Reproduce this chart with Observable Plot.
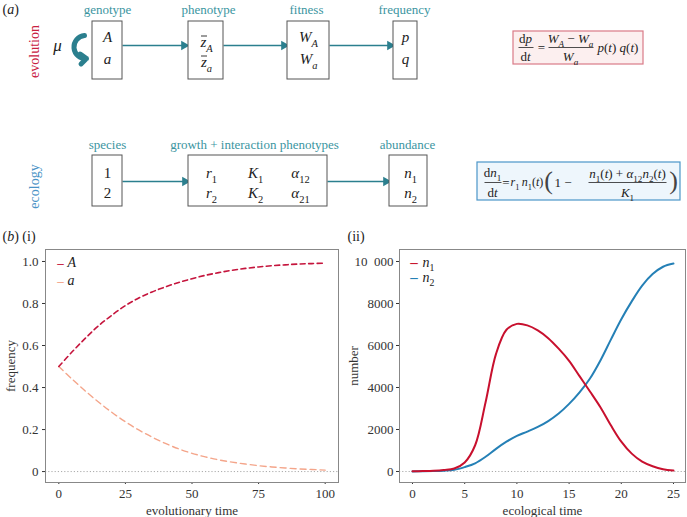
<!DOCTYPE html>
<html><head><meta charset="utf-8">
<script src="https://cdn.jsdelivr.net/npm/d3@7"></script>
<script src="https://cdn.jsdelivr.net/npm/@observablehq/plot@0.6"></script>
<style>
html,body{margin:0;padding:0;background:#fff;}
#root{position:relative;width:687px;height:517px;overflow:hidden;font-family:"Liberation Serif",serif;}
#root > svg{position:absolute;}
#root svg, #root svg text, #root svg g{font-family:"Liberation Serif", serif !important;}
</style></head><body><div id="root"></div>
<script>
// ---------------- data ----------------
const evoTime = [0,5,10,15,20,25,30,35,40,45,50,55,60,65,70,75,80,85,90,95,100];
const freqA = [0.5,0.57,0.635,0.695,0.745,0.79,0.826,0.855,0.879,0.9,0.918,0.934,0.947,0.958,0.967,0.974,0.98,0.984,0.988,0.99,0.992];
const freqa = [0.5,0.44,0.383,0.33,0.281,0.237,0.198,0.164,0.134,0.108,0.087,0.07,0.056,0.045,0.036,0.028,0.022,0.017,0.013,0.01,0.007];
const evoSeries = ["A","a"];
const evoXTicks = [0,25,50,75,100];
const evoYTicks = [0,0.2,0.4,0.6,0.8,1.0];

const ecoTime = [0,1,2,3,4,5,6,7,8,9,10,11,12,13,14,15,16,17,18,19,20,21,22,23,24,25];
const n1 = [10,20,35,70,140,430,1250,3300,5600,6750,7030,6960,6720,6350,5850,5270,4540,3810,3060,2200,1420,850,470,250,110,50];
const n2 = [5,10,20,40,80,210,390,700,1080,1420,1700,1900,2120,2400,2760,3220,3770,4430,5290,6280,7250,8100,8850,9400,9750,9900];
const ecoSeries = ["n1","n2"];
const ecoXTicks = [0,5,10,15,20,25];
const ecoYTicks = [0,2000,4000,6000,8000,10000];

// diagram content (text)
const evoHeaders = ["genotype","phenotype","fitness","frequency"];
const ecoHeaders = ["species","growth + interaction phenotypes","abundance"];

// ---------------- layout / style ----------------
const FONT = "Liberation Serif, serif";
const teal = "#3b959f", arrowTeal = "#2b7f8e";
const evoRed = "#c8203f", ecoBlue = "#4a93c6";
const colA = "#c5153d", cola = "#f4a58a", coln1 = "#c8102e", coln2 = "#2580b6";

const root = document.getElementById("root");

function richify(svg){
  const ns = "http://www.w3.org/2000/svg";
  svg.querySelectorAll("text").forEach(t => {
    if (t.querySelector("tspan")) return;
    const s = t.textContent;
    if (!/[*_]/.test(s)) return;
    const fs = parseFloat(getComputedStyle(t).fontSize) || 13;
    const segs = []; let it = false, sub = false, buf = "";
    const flush = () => { if (buf) segs.push({s: buf, it, sub}); buf = ""; };
    for (let i = 0; i < s.length; i++) {
      const c = s[i];
      if (c === "*") { flush(); it = !it; }
      else if (c === "_" && s[i+1] === "{") { flush(); sub = true; i++; }
      else if (c === "}" && sub) { flush(); sub = false; }
      else buf += c;
    }
    flush();
    t.textContent = "";
    let shift = 0;
    for (const g of segs) {
      const sp = document.createElementNS(ns, "tspan");
      sp.textContent = g.s;
      if (g.it) sp.setAttribute("font-style", "italic");
      const target = g.sub ? fs * 0.3 : 0;
      if (target !== shift) { sp.setAttribute("dy", (target - shift).toFixed(2)); shift = target; }
      if (g.sub) sp.setAttribute("font-size", (fs * 0.7).toFixed(2));
      t.appendChild(sp);
    }
  });
}

function place(svg, left, top){
  svg.style.left = left + "px"; svg.style.top = top + "px";
  root.appendChild(svg);
  richify(svg);
}

// ---------------- diagram (a) ----------------
const L = {
  headerPos: [[107,9],[208,9],[306,9],[404,9]],
  ecoHeaderPos: [[107,144],[254,144],[407,144]],
  evoBoxes: [{x1:92,x2:122,y1:21,y2:79},{x1:188,x2:223,y1:21,y2:79},{x1:287,x2:329,y1:21,y2:79},{x1:393,x2:417,y1:21,y2:79}],
  ecoBoxes: [{x1:92,x2:122,y1:155,y2:206},{x1:188,x2:327,y1:155,y2:206},{x1:389,x2:427,y1:155,y2:206}],
  arrows: [{x1:122,x2:187,y:45},{x1:223,x2:287,y:45},{x1:329,x2:393,y:45},{x1:122,x2:188,y:181},{x1:327,x2:389,y:181}],
  cells: [
    {t:"*A*",x:107,y:37},{t:"*a*",x:107,y:59},
    {t:"*z*_{*A*}",x:206,y:42},{t:"*z*_{*a*}",x:206,y:62},
    {t:"*W*_{*A*}",x:308,y:37},{t:"*W*_{*a*}",x:308,y:59},
    {t:"*p*",x:405,y:37},{t:"*q*",x:405,y:59},
    {t:"1",x:107,y:173},{t:"2",x:107,y:193},
    {t:"*r*_{1}",x:211,y:173},{t:"*r*_{2}",x:211,y:193},
    {t:"*K*_{1}",x:255,y:173},{t:"*K*_{2}",x:255,y:193},
    {t:"*\u03b1*_{12}",x:300,y:173},{t:"*\u03b1*_{21}",x:300,y:193},
    {t:"*n*_{1}",x:410,y:173},{t:"*n*_{2}",x:410,y:193}
  ],
  zBars: [{x1:200.5,x2:206.5,y:35.5},{x1:200.5,x2:206.5,y:55.5}],
  eqBox1: {x1:513,x2:643,y1:31,y2:64},
  eqBox2: {x1:477,x2:680,y1:162,y2:200},
  eq1Text: [
    {t:"d*p*",x:525,y:38,a:"middle"},{t:"d*t*",x:525,y:56,a:"middle"},
    {t:"=",x:541,y:47,a:"middle"},
    {t:"*W*_{*A*} \u2212 *W*_{*a*}",x:570,y:38,a:"middle"},{t:"*W*_{*a*}",x:570,y:56,a:"middle"},
    {t:"*p*(*t*) *q*(*t*)",x:597,y:47,a:"start"}
  ],
  eq1Lines: [{x1:518,x2:533,y:47},{x1:548,x2:593,y:47}],
  eq2Text: [
    {t:"d*n*_{1}",x:492,y:172,a:"middle"},{t:"d*t*",x:492,y:192,a:"middle"},
    {t:"=",x:505.5,y:182,a:"middle"},
    {t:"1 \u2212",x:554,y:182,a:"start"},
    {t:"*n*_{1}(*t*) + *\u03b1*_{12}*n*_{2}(*t*)",x:627,y:173,a:"middle"},
    {t:"*K*_{1}",x:627,y:192,a:"middle"}
  ],
  eq2Small: [{t:"*r*_{1}\u2009*n*_{1}(*t*)",x:510,y:182}],
  eq2Parens: [{t:"(",x:548,y:180},{t:")",x:673,y:180}],
  eq2Lines: [{x1:588,x2:666,y:182},{x1:484,x2:501,y:182}]
};

const headerData = evoHeaders.map((h,i)=>({t:h,x:L.headerPos[i][0],y:L.headerPos[i][1]}))
  .concat(ecoHeaders.map((h,i)=>({t:h,x:L.ecoHeaderPos[i][0],y:L.ecoHeaderPos[i][1]})));

const diagram = Plot.plot({
  width: 687, height: 245, margin: 0,
  style: {fontFamily: FONT, fontSize: "13px", background: "transparent", color: "#222"},
  x: {domain: [0,687], range: [0,687], axis: null},
  y: {domain: [0,245], range: [0,245], axis: null},
  marks: [
    Plot.text([{t:"(*a*)",x:2,y:9}], {x:"x",y:"y",text:"t",textAnchor:"start",fontSize:14,fill:"#222"}),
    Plot.text([{t:"(*b*) (i)",x:2,y:236},{t:"(ii)",x:347,y:236}], {x:"x",y:"y",text:"t",textAnchor:"start",fontSize:14,fill:"#222"}),
    Plot.text([{t:"evolution",x:34,y:51}], {x:"x",y:"y",text:"t",rotate:-90,fontSize:14,fill:evoRed}),
    Plot.text([{t:"ecology",x:34,y:186}], {x:"x",y:"y",text:"t",rotate:-90,fontSize:14,fill:ecoBlue}),
    Plot.text(headerData, {x:"x",y:"y",text:"t",fontSize:13,fill:teal}),
    Plot.link(L.arrows, {x1:"x1",x2:d=>d.x2-5,y1:"y",y2:"y",stroke:arrowTeal,strokeWidth:1.3}),
    Plot.dot(L.arrows, {x:d=>d.x2-3.5,y:"y",symbol:"triangle",rotate:90,r:3.6,fill:arrowTeal,stroke:null}),
    Plot.rect(L.evoBoxes.concat(L.ecoBoxes), {x1:"x1",x2:"x2",y1:"y1",y2:"y2",fill:"white",stroke:"#555",strokeWidth:1}),
    Plot.text(L.cells, {x:"x",y:"y",text:"t",fontSize:15,fill:"#222"}),
    Plot.link(L.zBars, {x1:"x1",x2:"x2",y1:"y",y2:"y",stroke:"#222",strokeWidth:0.9}),
    Plot.text([{t:"*\u03bc*",x:57,y:45}], {x:"x",y:"y",text:"t",fontSize:17,fill:"#222"}),
    Plot.arrow([{x1:84,y1:35,x2:86,y2:58}], {x1:"x1",y1:"y1",x2:"x2",y2:"y2",bend:-90,stroke:arrowTeal,strokeWidth:5,headLength:2.6,headAngle:80}),
    // equation boxes
    Plot.rect([L.eqBox1], {x1:"x1",x2:"x2",y1:"y1",y2:"y2",fill:"#fcefef",stroke:"#d97a87",strokeWidth:1.2}),
    Plot.rect([L.eqBox2], {x1:"x1",x2:"x2",y1:"y1",y2:"y2",fill:"#eef6fc",stroke:"#4b96c8",strokeWidth:1.2}),
    Plot.text(L.eq1Text.filter(d=>d.a==="middle"), {x:"x",y:"y",text:"t",fontSize:13,fill:"#222"}),
    Plot.text(L.eq1Text.filter(d=>d.a==="start"), {x:"x",y:"y",text:"t",fontSize:13,fill:"#222",textAnchor:"start"}),
    Plot.link(L.eq1Lines, {x1:"x1",x2:"x2",y1:"y",y2:"y",stroke:"#222",strokeWidth:0.8}),
    Plot.text(L.eq2Text.filter(d=>d.a==="middle"), {x:"x",y:"y",text:"t",fontSize:13,fill:"#222"}),
    Plot.text(L.eq2Text.filter(d=>d.a==="start"), {x:"x",y:"y",text:"t",fontSize:13,fill:"#222",textAnchor:"start"}),
    Plot.text(L.eq2Small, {x:"x",y:"y",text:"t",fontSize:12,fill:"#222",textAnchor:"start"}),
    Plot.text(L.eq2Parens, {x:"x",y:"y",text:"t",fontSize:26,fill:"#444"}),
    Plot.link(L.eq2Lines, {x1:"x1",x2:"x2",y1:"y",y2:"y",stroke:"#222",strokeWidth:0.8})
  ]
});
place(diagram, 0, 0);

// ---------------- (b)(i) ----------------
const evoData = evoTime.flatMap((t,i)=>[{t, v: freqA[i], s: evoSeries[0]}, {t, v: freqa[i], s: evoSeries[1]}]);
const axisStyle = {fontFamily: FONT, fontSize: "13px", background: "transparent", color: "#333", overflow: "visible"};

const left = Plot.plot({
  width: 343, height: 272, marginLeft: 45, marginRight: 5, marginTop: 4, marginBottom: 35,
  style: axisStyle,
  x: {domain: [-5,105], ticks: evoXTicks, tickSize: 2, tickPadding: 4, label: null},
  y: {domain: [-0.052,1.057], ticks: evoYTicks, tickSize: 3, tickPadding: 4, label: null, tickFormat: d => d === 0 ? "0" : d.toFixed(1)},
  marks: [
    Plot.ruleY([0], {stroke: "#aaa", strokeDasharray: "1.2,2"}),
    Plot.line(evoData.filter(d=>d.s===evoSeries[1]), {x:"t", y:"v", stroke: cola, strokeWidth: 1.4, strokeDasharray: "6,4", curve: "catmull-rom"}),
    Plot.line(evoData.filter(d=>d.s===evoSeries[0]), {x:"t", y:"v", stroke: colA, strokeWidth: 1.6, strokeDasharray: "5,3.5", curve: "catmull-rom"}),
    Plot.frame({stroke: "#888"}),
    Plot.text([evoSeries[0]], {frameAnchor:"top-left", text:()=>"\u2013", dx:15, dy:13, fill:colA, fontWeight:"bold", textAnchor:"middle", lineAnchor:"middle"}),
    Plot.text([evoSeries[1]], {frameAnchor:"top-left", text:()=>"\u2013", dx:15, dy:31, fill:cola, fontWeight:"bold", textAnchor:"middle", lineAnchor:"middle"}),
    Plot.text(evoSeries.slice(0,1), {frameAnchor:"top-left", text:d=>`*${d}*`, dx:22, dy:13, fill:"#222", textAnchor:"start", lineAnchor:"middle", fontSize:14}),
    Plot.text(evoSeries.slice(1,2), {frameAnchor:"top-left", text:d=>`*${d}*`, dx:22, dy:31, fill:"#222", textAnchor:"start", lineAnchor:"middle", fontSize:14}),
    Plot.text(["evolutionary time"], {frameAnchor:"bottom", text:d=>d, dy:28, fill:"#333", lineAnchor:"middle"}),
    Plot.text(["frequency"], {frameAnchor:"left", text:d=>d, dx:-35, rotate:-90, fill:"#333", textAnchor:"middle", lineAnchor:"middle"})
  ]
});
place(left, 0, 245);

// ---------------- (b)(ii) ----------------
const ecoData = ecoTime.flatMap((t,i)=>[{t, v: n1[i], s: ecoSeries[0]}, {t, v: n2[i], s: ecoSeries[1]}]);
const right = Plot.plot({
  width: 344, height: 272, marginLeft: 56, marginRight: 2, marginTop: 4, marginBottom: 35,
  style: axisStyle,
  x: {domain: [-1.245,26.15], ticks: ecoXTicks, tickSize: 2, tickPadding: 4, label: null},
  y: {domain: [-524,10571], ticks: ecoYTicks, tickSize: 3, tickPadding: 3, label: null, tickFormat: d => d >= 10000 ? "10\u2002000" : String(d)},
  marks: [
    Plot.ruleY([0], {stroke: "#aaa", strokeDasharray: "1.2,2"}),
    Plot.line(ecoData.filter(d=>d.s===ecoSeries[1]), {x:"t", y:"v", stroke: coln2, strokeWidth: 2, curve: "catmull-rom"}),
    Plot.line(ecoData.filter(d=>d.s===ecoSeries[0]), {x:"t", y:"v", stroke: coln1, strokeWidth: 2, curve: "catmull-rom"}),
    Plot.frame({stroke: "#888"}),
    Plot.text([ecoSeries[0]], {frameAnchor:"top-left", text:()=>"\u2013", dx:14.5, dy:13, fill:coln1, fontWeight:"bold", fontSize:15, textAnchor:"middle", lineAnchor:"middle"}),
    Plot.text([ecoSeries[1]], {frameAnchor:"top-left", text:()=>"\u2013", dx:14.5, dy:28, fill:coln2, fontWeight:"bold", fontSize:15, textAnchor:"middle", lineAnchor:"middle"}),
    Plot.text(ecoSeries.slice(0,1), {frameAnchor:"top-left", text:d=>`*n*_{${d.slice(1)}}`, dx:23, dy:13, fill:"#222", textAnchor:"start", lineAnchor:"middle", fontSize:14}),
    Plot.text(ecoSeries.slice(1,2), {frameAnchor:"top-left", text:d=>`*n*_{${d.slice(1)}}`, dx:23, dy:28, fill:"#222", textAnchor:"start", lineAnchor:"middle", fontSize:14}),
    Plot.text(["ecological time"], {frameAnchor:"bottom", text:d=>d, dy:28, fill:"#333", lineAnchor:"middle"}),
    Plot.text(["number"], {frameAnchor:"left", text:d=>d, dx:-46, rotate:-90, fill:"#333", textAnchor:"middle", lineAnchor:"middle"})
  ]
});
place(right, 343, 245);
</script></body></html>
